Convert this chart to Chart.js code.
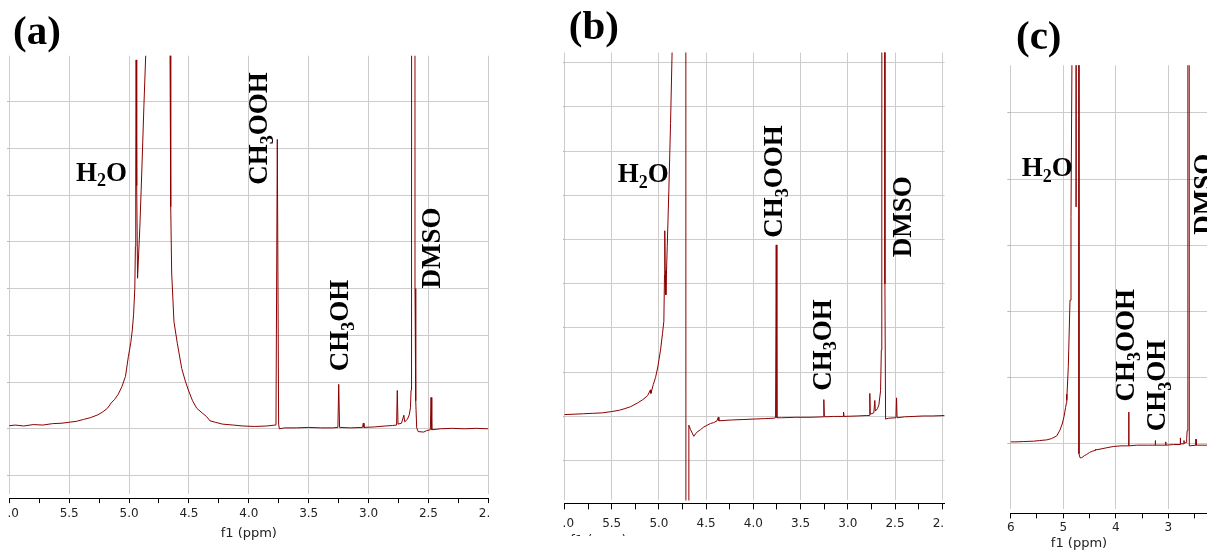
<!DOCTYPE html>
<html>
<head>
<meta charset="utf-8">
<script src="https://cdn.jsdelivr.net/npm/chart.js@4.4.1/dist/chart.umd.min.js"></script>
<style>
  html, body { margin: 0; padding: 0; background: #fff; }
  body { width: 1207px; height: 557px; position: relative; overflow: hidden; }
  .panel { position: absolute; top: 0; overflow: hidden; }
  .panel canvas { position: absolute; left: -30px; top: 0; }
</style>
</head>
<body>
<div class="panel" style="left:7px;width:481.6px;height:557px"><canvas id="specA" width="542" height="557"></canvas></div>
<div class="panel" style="left:562.5px;width:382px;height:536px"><canvas id="specB" width="442" height="536"></canvas></div>
<div class="panel" style="left:1005px;width:202px;height:557px"><canvas id="specC" width="262" height="557"></canvas></div>
<script>
// Spectrum (a): chemical shift (ppm) and intensity (in grid rows)
const ppmA = [6.02, 5.95, 5.88, 5.80, 5.72, 5.64, 5.56, 5.50, 5.44, 5.38, 5.32, 5.26, 5.22, 5.18, 5.15, 5.12, 5.09, 5.06, 5.03, 5.006,
  4.985, 4.973, 4.962, 4.952, 4.947, 4.944, 4.941, 4.936, 4.929, 4.91, 4.894, 4.876, 4.858, 4.80, 4.76, 4.70, 4.658, 4.652, 4.644, 4.625,
  4.597, 4.56, 4.53, 4.505, 4.47, 4.435, 4.39, 4.352, 4.324, 4.28, 4.22, 4.13, 4.05, 3.95, 3.85, 3.78, 3.773, 3.762, 3.751, 3.745,
  3.70, 3.60, 3.50, 3.40, 3.30, 3.256, 3.249, 3.242, 3.15, 3.05, 3.044, 3.038, 2.95, 2.86, 2.80, 2.766, 2.760, 2.754, 2.725, 2.705,
  2.698, 2.676, 2.66, 2.65, 2.645, 2.642, 2.640, 2.637, 2.615, 2.612, 2.606, 2.598, 2.585, 2.54, 2.515, 2.484, 2.478, 2.472, 2.40, 2.30,
  2.20, 2.10, 2.00];
const intA = [0.06, 0.08, 0.06, 0.09, 0.08, 0.11, 0.12, 0.14, 0.16, 0.20, 0.24, 0.30, 0.36, 0.44, 0.55, 0.63, 0.74, 0.90, 1.12, 1.54,
  1.85, 2.11, 2.45, 3.0, 3.9, 5.6, 7.89, 5.2, 3.22, 4.3, 5.47, 6.9, 8.2, 30, 60, 30, 8.2, 4.75, 3.33, 2.29,
  1.83, 1.29, 1.02, 0.83, 0.60, 0.44, 0.34, 0.26, 0.17, 0.14, 0.10, 0.08, 0.06, 0.05, 0.06, 0.08, 0.10, 6.19, 0.10, 0.0,
  0.02, 0.02, 0.03, 0.02, 0.02, 0.03, 0.95, 0.03, 0.02, 0.03, 0.12, 0.03, 0.04, 0.06, 0.07, 0.08, 0.82, 0.10, 0.12, 0.29,
  0.15, 0.20, 0.30, 0.45, 0.83, 1.47, 3.0, 60, 60, 3.0, 0.6, 0.02, -0.06, -0.07, -0.04, -0.02, 0.67, -0.02, 0.0, 0.01,
  0.0, 0.01, 0.0];

// Spectrum (b)
const ppmB = [6.01, 5.90, 5.80, 5.70, 5.60, 5.50, 5.42, 5.37, 5.30, 5.23, 5.17, 5.12, 5.09, 5.085, 5.06, 5.036, 5.012, 4.983, 4.962, 4.948,
  4.941, 4.938, 4.934, 4.927, 4.912, 4.895, 4.877, 4.859, 4.80, 4.716, 4.713, 4.690, 4.683, 4.665, 4.631, 4.60, 4.56, 4.525, 4.49, 4.454,
  4.42, 4.385, 4.372, 4.365, 4.30, 4.224, 4.10, 3.995, 3.88, 3.783, 3.765, 3.758, 3.751, 3.70, 3.55, 3.40, 3.26, 3.254, 3.248, 3.15,
  3.05, 3.045, 3.040, 2.90, 2.80, 2.772, 2.767, 2.762, 2.725, 2.714, 2.708, 2.685, 2.671, 2.653, 2.645, 2.640, 2.637, 2.611, 2.607, 2.600,
  2.566, 2.49, 2.484, 2.478, 2.40, 2.30, 2.20, 2.10, 1.975];
const intB = [0.04, 0.05, 0.06, 0.07, 0.08, 0.11, 0.14, 0.17, 0.22, 0.30, 0.38, 0.47, 0.60, 0.52, 0.72, 0.88, 1.12, 1.50, 1.88, 2.15,
  3.2, 4.20, 3.3, 2.75, 3.84, 5.12, 6.63, 8.4, 30, 30, -30, -30, -0.2, -0.30, -0.45, -0.36, -0.30, -0.24, -0.20, -0.16,
  -0.14, -0.10, -0.02, -0.10, -0.09, -0.08, -0.07, -0.06, -0.05, -0.04, -0.03, 3.88, -0.03, -0.03, -0.02, -0.02, -0.01, 0.38, -0.01, 0.0,
  0.0, 0.10, 0.0, 0.01, 0.02, 0.02, 0.52, 0.05, 0.08, 0.36, 0.12, 0.18, 0.26, 0.58, 1.5, 4.0, 30, 30, 3.0, -0.06,
  -0.04, -0.03, 0.42, -0.03, -0.01, 0.0, 0.01, 0.01, 0.02];

// Spectrum (c)
const ppmC = [6.065, 5.90, 5.75, 5.57, 5.45, 5.315, 5.22, 5.124, 5.061, 5.02, 4.985, 4.955, 4.938, 4.935, 4.930, 4.903, 4.871, 4.852, 4.833, 4.80,
  4.760, 4.755, 4.750, 4.735, 4.714, 4.700, 4.68, 4.648, 4.60, 4.553, 4.50, 4.44, 4.395, 4.385, 4.375, 4.30, 4.18, 4.047, 3.90, 3.792,
  3.760, 3.754, 3.748, 3.60, 3.40, 3.252, 3.247, 3.242, 3.055, 3.050, 3.045, 2.90, 2.775, 2.771, 2.766, 2.705, 2.701, 2.696, 2.655, 2.650,
  2.640, 2.627, 2.607, 2.600, 2.587, 2.476, 2.472, 2.468, 2.263, 2.10, 2.00];
const intC = [0.03, 0.03, 0.035, 0.04, 0.05, 0.06, 0.08, 0.12, 0.21, 0.30, 0.41, 0.55, 0.62, 0.75, 0.66, 1.17, 2.17, 3.43, 5.9, 30,
  30, 3.58, 3.58, 30, 30, -0.15, -0.21, -0.21, -0.18, -0.16, -0.13, -0.11, -0.10, -0.08, -0.09, -0.08, -0.06, -0.04, -0.03, -0.03,
  -0.03, 0.48, -0.03, -0.02, -0.02, -0.02, 0.05, -0.02, -0.02, 0.03, -0.02, -0.01, -0.01, 0.09, 0.0, 0.0, 0.05, 0.01, 0.02, 0.08,
  0.2, 30, 30, -0.03, -0.03, -0.02, 0.07, -0.02, -0.02, -0.02, -0.02];

// Axis ticks (labelled values) and the finer unlabelled tick marks
const ticksAB = [6.0, 5.5, 5.0, 4.5, 4.0, 3.5, 3.0, 2.5, 2.0];
const minorAB = [6.0, 5.75, 5.5, 5.25, 5.0, 4.75, 4.5, 4.25, 4.0, 3.75, 3.5, 3.25, 3.0, 2.75, 2.5, 2.25, 2.0];
const ticksC = [6, 5, 4, 3, 2];
const minorC = [6, 5.5, 5, 4.5, 4, 3.5, 3, 2.5, 2];
const rowsA = [-1, 0, 1, 2, 3, 4, 5, 6, 7];
const rowsB = [-1, 0, 1, 2, 3, 4, 5, 6, 7, 8];
const rowsC = [0, 1, 2, 3, 4, 5];

// Peak labels, anchored at (ppm, intensity)
const tagsA = [
  { kind: 'panel', parts: [['(a)']], at: [5.969, 8.22] },
  { kind: 'peak', parts: [['H'], ['2', 1], ['O']], at: [5.443, 5.31] },
  { kind: 'peak', up: true, parts: [['CH'], ['3', 1], ['OOH']], at: [3.851, 5.22] },
  { kind: 'peak', up: true, parts: [['CH'], ['3', 1], ['OH']], at: [3.169, 1.23] },
  { kind: 'peak', up: true, parts: [['DMSO']], at: [2.403, 3.00] }
];
const tagsB = [
  { kind: 'panel', parts: [['(b)']], at: [5.954, 8.54] },
  { kind: 'peak', parts: [['H'], ['2', 1], ['O']], at: [5.436, 5.31] },
  { kind: 'peak', up: true, parts: [['CH'], ['3', 1], ['OOH']], at: [3.695, 4.04] },
  { kind: 'peak', up: true, parts: [['CH'], ['3', 1], ['OH']], at: [3.183, 0.58] },
  { kind: 'peak', up: true, parts: [['DMSO']], at: [2.336, 3.60] },
  { kind: 'axis', parts: [['f1 (ppm)']], at: [5.64, -2.80] }
];
const tagsC = [
  { kind: 'panel', parts: [['(c)']], at: [5.899, 5.96] },
  { kind: 'peak', parts: [['H'], ['2', 1], ['O']], at: [5.791, 4.04] },
  { kind: 'peak', up: true, parts: [['CH'], ['3', 1], ['OOH']], at: [3.653, 0.64] },
  { kind: 'peak', up: true, parts: [['CH'], ['3', 1], ['OH']], at: [3.063, 0.19] },
  { kind: 'peak', up: true, parts: [['DMSO']], at: [2.168, 3.16] },
  { kind: 'axis', parts: [['f1 (ppm)']], at: [4.70, -1.50] }
];

Chart.defaults.font.family = '"DejaVu Sans", sans-serif';

const tagStyle = {
  panel: { size: 41, family: '"Liberation Serif"', weight: 'bold ' },
  peak: { size: 27, family: '"Liberation Serif"', weight: 'bold ' },
  axis: { size: 13, family: '"DejaVu Sans"', weight: '', center: true }
};

// draws the text labels (with subscripts) on top of the chart
function tagLayer(tags) {
  return {
    id: 'tags',
    afterDraw(chart) {
      const { ctx, scales } = chart;
      for (const t of tags) {
        const st = tagStyle[t.kind];
        const small = Math.round(st.size * 0.66);
        ctx.save();
        ctx.translate(scales.x.getPixelForValue(t.at[0]), scales.y.getPixelForValue(t.at[1]));
        if (t.up) ctx.rotate(-Math.PI / 2);
        ctx.fillStyle = t.kind === 'axis' ? '#222' : '#000';
        ctx.textBaseline = st.center ? 'middle' : 'alphabetic';
        let w = 0;
        const runs = t.parts.map(([s, sub]) => {
          const f = st.weight + (sub ? small : st.size) + 'px ' + st.family;
          ctx.font = f;
          const r = { s, sub, x: w, f };
          w += ctx.measureText(s).width;
          return r;
        });
        const x0 = st.center ? -w / 2 : 0;
        for (const r of runs) {
          ctx.font = r.f;
          ctx.fillText(r.s, x0 + r.x, r.sub ? st.size * 0.22 : 0);
        }
        ctx.restore();
      }
    }
  };
}

function spectrum(id, o) {
  const cfg = {
    type: 'line',
    data: {
      datasets: [{
        data: o.ppm.map((p, i) => ({ x: p, y: o.int[i] })),
        borderColor: '#8b0000',
        borderWidth: 1,
        pointRadius: 0,
        tension: 0,
        fill: false
      }]
    },
    options: {
      responsive: false,
      animation: false,
      events: [],
      layout: { padding: { left: 0, right: 0, top: 0, bottom: 0 } },
      plugins: { legend: { display: false }, tooltip: { enabled: false } },
      scales: {
        x: {
          type: 'linear', reverse: true, min: o.xmin, max: o.xmax, weight: 0,
          afterBuildTicks: s => { s.ticks = o.grid.map(v => ({ value: v })); },
          grid: { color: '#cccccc', lineWidth: 1, tickLength: o.gap, tickColor: 'rgba(0,0,0,0)' },
          border: { display: false },
          ticks: { display: false }
        },
        x2: {
          type: 'linear', position: 'bottom', reverse: true, min: o.xmin, max: o.xmax, weight: 1,
          afterBuildTicks: s => { s.ticks = o.minor.map(v => ({ value: v })); },
          grid: { drawOnChartArea: false, tickLength: o.tick, tickColor: '#000' },
          border: { color: '#000', width: 1 },
          ticks: {
            autoSkip: false, maxRotation: 0, minRotation: 0, padding: o.tickPad,
            color: '#222', font: { size: 12 },
            callback: v => o.grid.includes(v) ? o.fmt(v) : ''
          },
          title: {
            display: o.title, text: 'f1 (ppm)', color: '#222',
            font: { size: 13 }, padding: { top: 0, bottom: 0 }
          }
        },
        y: {
          type: 'linear', min: o.ymin, max: o.ymax,
          afterBuildTicks: s => { s.ticks = o.rows.map(v => ({ value: v })); },
          grid: { color: '#cccccc', lineWidth: 1, tickLength: o.ytick, tickColor: '#b8b8b8' },
          border: { display: false },
          ticks: { display: false }
        }
      }
    },
    plugins: [tagLayer(o.tags)]
  };
  const chart = new Chart(document.getElementById(id), cfg);

  // nudge the layout padding until the plot area sits on the target box
  const t = {
    left: o.box.left - o.wrap + 30, right: o.box.right - o.wrap + 30,
    top: o.box.top, bottom: o.box.bottom
  };
  const pad = { left: 0, right: 0, top: 0, bottom: 0 };
  for (let k = 0; k < 5; k++) {
    const a = chart.chartArea;
    pad.left += t.left - a.left;
    pad.top += t.top - a.top;
    pad.right += a.right - t.right;
    pad.bottom += a.bottom - t.bottom;
    cfg.options.layout.padding = { ...pad };
    chart.update();
  }
  return chart;
}

spectrum('specA', {
  ppm: ppmA, int: intA, grid: ticksAB, minor: minorAB, rows: rowsA, tags: tagsA,
  xmin: 2.0, xmax: 6.0, ymin: -1.386, ymax: 7.98,
  wrap: 7, box: { left: 9.3, right: 488.3, top: 55.7, bottom: 493.6 },
  gap: 5, tick: 4.5, tickPad: 4, ytick: 2.6, title: true, fmt: v => v.toFixed(1)
});

spectrum('specB', {
  ppm: ppmB, int: intB, grid: ticksAB, minor: minorAB, rows: rowsB, tags: tagsB,
  xmin: 1.975, xmax: 6.0, ymin: -1.90, ymax: 8.23,
  wrap: 562.5, box: { left: 564, right: 944.1, top: 52.6, bottom: 500.4 },
  gap: 3, tick: 6, tickPad: 7, ytick: 1.5, title: false, fmt: v => v.toFixed(1)
});

spectrum('specC', {
  ppm: ppmC, int: intC, grid: ticksC, minor: minorC, rows: rowsC, tags: tagsC,
  xmin: 2, xmax: 6, ymin: -0.99, ymax: 5.72,
  wrap: 1005, box: { left: 1010.7, right: 1220.8, top: 65.2, bottom: 509.4 },
  gap: 4, tick: 5, tickPad: 2, ytick: 3.4, title: false, fmt: v => String(v)
});
</script>
</body>
</html>
